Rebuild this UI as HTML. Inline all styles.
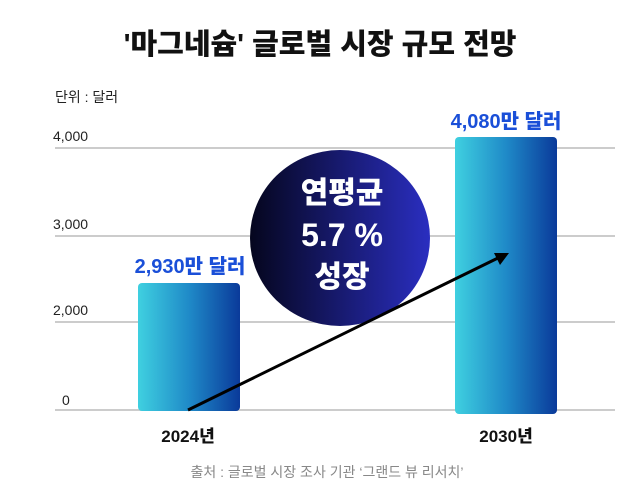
<!DOCTYPE html>
<html><head><meta charset="utf-8"><style>
body{margin:0;background:#fff;}
svg{display:block;font-family:"Liberation Sans","Noto Sans CJK KR",sans-serif;}
</style></head><body>
<svg width="639" height="495" viewBox="0 0 639 495">
<defs>
<linearGradient id="b" x1="0" x2="1" y1="0" y2="0"><stop offset="0" stop-color="#3fd0e0"/><stop offset="0.5" stop-color="#1f8ac8"/><stop offset="1" stop-color="#0a3a9a"/></linearGradient>
<linearGradient id="c" x1="0" x2="1" y1="0" y2="0"><stop offset="0" stop-color="#05061e"/><stop offset="1" stop-color="#2a2ec0"/></linearGradient>
</defs>
<text x="320" y="54" text-anchor="middle" font-size="29" font-weight="900" fill="#111">'마그네슘' 글로벌 시장 규모 전망</text>
<text x="55" y="102" font-size="14" fill="#222">단위 : 달러</text>
<g stroke="#ccc" stroke-width="2">
<line x1="55" y1="148" x2="615" y2="148"/><line x1="55" y1="236" x2="615" y2="236"/><line x1="55" y1="322" x2="615" y2="322"/><line x1="55" y1="410" x2="615" y2="410"/></g>
<g font-size="14" fill="#222"><text x="53" y="141">4,000</text><text x="53" y="229">3,000</text><text x="53" y="315">2,000</text><text x="62" y="405">0</text></g>
<rect x="138" y="283" width="102" height="128" rx="4" fill="url(#b)"/>
<rect x="455" y="137" width="102" height="277" rx="4" fill="url(#b)"/>
<ellipse cx="340" cy="238" rx="90" ry="88" fill="url(#c)"/>
<g fill="#fff" font-weight="900" text-anchor="middle"><text x="342" y="203" font-size="30">연평균</text><text x="342" y="246" font-size="32">5.7 %</text><text x="342" y="287" font-size="30">성장</text></g>
<g fill="#1a4fd8" font-weight="900" font-size="20" text-anchor="middle"><text x="190" y="273">2,930만 달러</text><text x="506" y="128">4,080만 달러</text></g>
<line x1="188" y1="410" x2="500" y2="257" stroke="#000" stroke-width="3"/>
<polygon points="509,253 494,253 500,265" fill="#000"/>
<g font-size="17" font-weight="900" fill="#111" text-anchor="middle"><text x="188" y="442">2024년</text><text x="506" y="442">2030년</text></g>
<text x="327" y="477" text-anchor="middle" font-size="14" fill="#888">출처 : 글로벌 시장 조사 기관 ‘그랜드 뷰 리서치’</text>
</svg>
</body></html>
